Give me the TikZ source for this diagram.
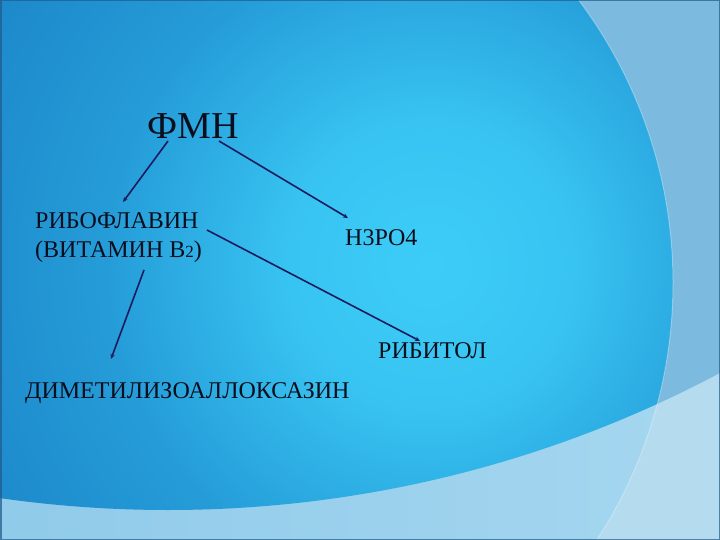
\documentclass[tikz,border=0pt]{standalone}
\usepackage{fontspec}
\setmainfont{Liberation Serif}
\usetikzlibrary{arrows.meta}
\definecolor{cA}{HTML}{3DCCF7}
\definecolor{cB}{HTML}{38C4F2}
\definecolor{cC}{HTML}{259CD8}
\definecolor{cD}{HTML}{1A82C6}
\definecolor{cE}{HTML}{1470B8}
\definecolor{cTopRight}{HTML}{7DBADF}
\definecolor{cBotL}{HTML}{88C6E8}
\definecolor{cBotR}{HTML}{A4D6EF}
\definecolor{cCorner}{HTML}{B5DBEF}
\definecolor{arrowcol}{HTML}{1B1B5E}
\definecolor{textcol}{HTML}{0B0E1C}
\definecolor{framecol}{HTML}{1F5A8C}
\pgfdeclareradialshading{bgshade}{\pgfpoint{0bp}{0bp}}{color(0bp)=(cA); color(3.5bp)=(cB); color(8.1bp)=(cC); color(14.1bp)=(cD); color(18.4bp)=(cE); color(50bp)=(cE)}
\tikzset{
  lbl/.style={inner sep=0pt, anchor=base west, text=textcol, font=\fontsize{24}{29}\selectfont},
  big/.style={inner sep=0pt, anchor=base west, text=textcol, font=\fontsize{38}{42}\selectfont},
  arr/.style={draw=arrowcol, line width=1.6pt, -{Stealth[length=5pt,width=4.5pt]}}
}
\begin{document}
\begin{tikzpicture}[x=1pt,y=-1pt]
\useasboundingbox (0,0) rectangle (720,540);
% background
\fill[cCorner] (0,0) rectangle (720,540);
\begin{scope}
  \clip (0,0) rectangle (720,540);
  \fill[cTopRight] (168,-668) circle (1178);
  \shade[left color=cBotL, right color=cBotR] (202,283) circle (471);
  \begin{scope}
    \clip (168,-668) circle (1178);
    \clip (202,283) circle (471);
    \shade[shading=bgshade] (430,265) circle (1000);
  \end{scope}
  \draw[white, opacity=0.3, line width=1pt] (202,283) circle (471);
\end{scope}
\draw[framecol, line width=3pt, opacity=0.7] (0,0) rectangle (720,540);
% texts
\node[big] (fmn) at (147,139) {ФМН};
\node[lbl, align=left] (rib) at (35,258) {РИБОФЛАВИН\\(ВИТАМИН В{\fontsize{17}{17}\selectfont 2})};
\node[lbl] (hpo) at (345,245) {Н3РО4};
\node[lbl] (ribit) at (378,358) {РИБИТОЛ};
\node[lbl] (dim) at (25,398) {ДИМЕТИЛИЗОАЛЛОКСАЗИН};
% connectors
\draw[arr] ([shift={(21,2)}]fmn.base west) -- ([shift={(88,-56)}]rib.base west);
\draw[arr] ([shift={(72,2)}]fmn.base west) -- ([shift={(3,-27)}]hpo.base west);
\draw[arr] ([shift={(172,-28)}]rib.base west) -- ([shift={(42,-17)}]ribit.base west);
\draw[arr] ([shift={(109,12)}]rib.base west) -- ([shift={(86,-39)}]dim.base west);
\end{tikzpicture}
\end{document}
